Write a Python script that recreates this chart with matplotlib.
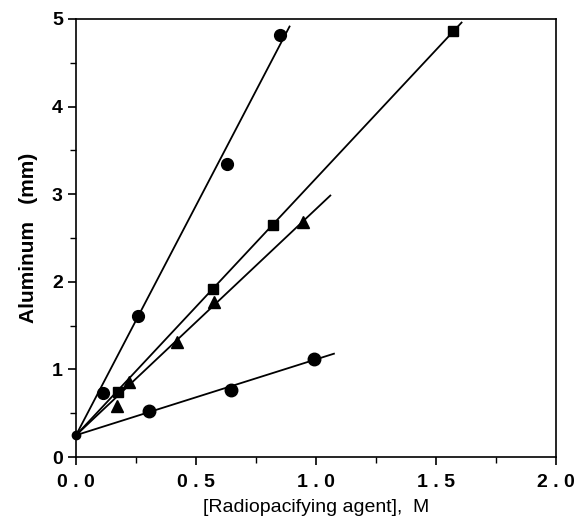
import numpy as np
import matplotlib
matplotlib.use("Agg")
import matplotlib.pyplot as plt
from matplotlib.ticker import MultipleLocator

plt.rcParams['font.family'] = ['Liberation Sans', 'DejaVu Sans']
plt.rcParams['font.size'] = 12

# Intercept shared by all fits (point at zero concentration)
origin_x = [0.0]
origin_y = [0.25]

# Steep circles
c1_x = [0.114, 0.26, 0.63, 0.85]
c1_y = [0.73, 1.61, 3.34, 4.82]
c1_slope, c1_end = 5.24, 0.89

# Squares
sq_x = [0.176, 0.572, 0.82, 1.572]
sq_y = [0.745, 1.92, 2.65, 4.86]
sq_slope, sq_end = 2.93, 1.607

# Triangles
tr_x = [0.172, 0.222, 0.42, 0.575, 0.947]
tr_y = [0.58, 0.86, 1.31, 1.77, 2.68]
tr_slope, tr_end = 2.58, 1.06

# Lower circles
c2_x = [0.305, 0.645, 0.99]
c2_y = [0.53, 0.76, 1.12]
c2_slope, c2_end = 0.865, 1.075

x_ticks = [0.0, 0.5, 1.0, 1.5, 2.0]
x_ticklabels = ['0 . 0', '0 . 5', '1 . 0', '1 . 5', '2 . 0']
y_ticks = [0, 1, 2, 3, 4, 5]
y_ticklabels = ['0', '1', '2', '3', '4', '5']

fig = plt.figure(figsize=(5.76, 5.26), dpi=100)
ax = fig.add_axes([0.132, 0.131, 0.833, 0.833])

series = [
    (c1_x, c1_y, c1_slope, c1_end, 'o', 8.5),
    (sq_x, sq_y, sq_slope, sq_end, 's', 7),
    (tr_x, tr_y, tr_slope, tr_end, '^', 8.5),
    (c2_x, c2_y, c2_slope, c2_end, 'o', 9),
]

for xs, ys, slope, xend, mk, ms in series:
    lx = np.array([0.0, xend])
    ax.plot(lx, origin_y[0] + slope * lx, color='black', lw=1.3)
    ax.plot(xs, ys, linestyle='none', marker=mk, color='black', ms=ms)

ax.plot(origin_x, origin_y, linestyle='none', marker='o', color='black', ms=6,
        clip_on=False)

ax.set_xlim(0, 2.0)
ax.set_ylim(0, 5)
ax.xaxis.set_minor_locator(MultipleLocator(0.25))
ax.yaxis.set_minor_locator(MultipleLocator(0.5))

ax.set_xticks(x_ticks)
ax.set_xticklabels(x_ticklabels, fontweight='bold', fontsize=14)
ax.set_yticks(y_ticks)
ax.set_yticklabels(y_ticklabels, fontweight='bold', fontsize=14)

ax.tick_params(which='major', direction='out', length=6, width=1.2,
               top=False, right=False)
ax.tick_params(axis='x', which='major', pad=6)
ax.tick_params(which='minor', direction='out', length=4, width=1.0,
               top=False, right=False)
for s in ax.spines.values():
    s.set_linewidth(1.2)

ax.set_xlabel('[Radiopacifying agent],  M', fontsize=14, labelpad=6)
ax.set_ylabel('Aluminum   (mm)', fontsize=15, fontweight='bold', labelpad=10)

fig.savefig('out.png', dpi=100)
